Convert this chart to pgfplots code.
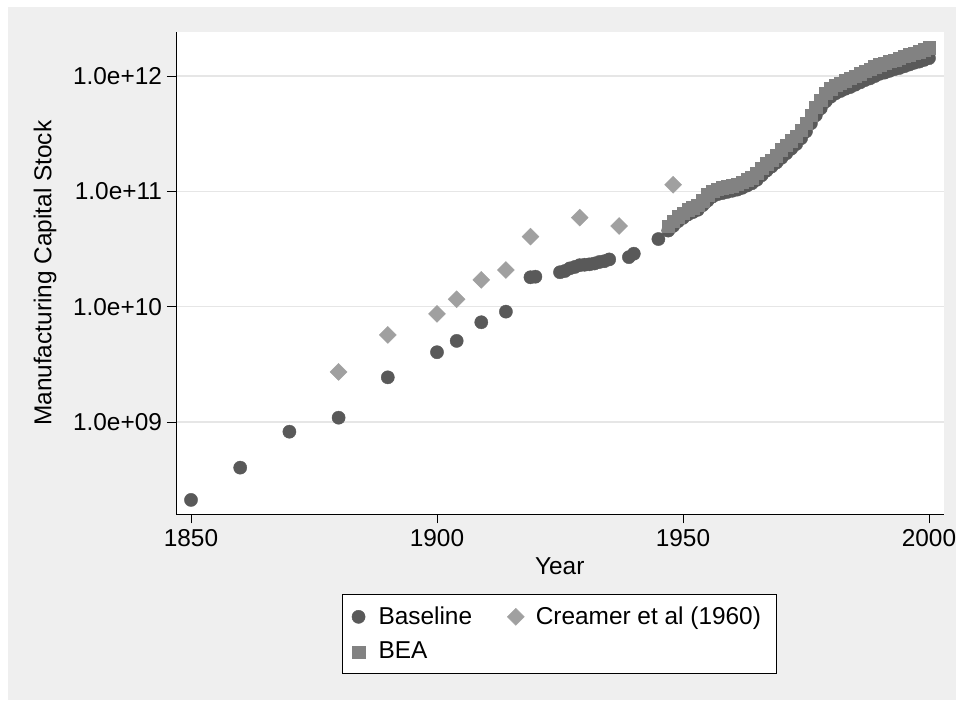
\documentclass[border=0pt]{standalone}
\usepackage{fontspec}
\setmainfont{Liberation Sans}
\usepackage{pgfplots}
\pgfplotsset{compat=1.18}
\definecolor{bggray}{HTML}{EFEFEF}
\definecolor{gridgray}{HTML}{E6E6E6}
\definecolor{basecol}{HTML}{595959}
\definecolor{creamcol}{HTML}{A0A0A0}
\definecolor{beacol}{HTML}{828282}
\newcommand{\chartfont}{\fontsize{12.2}{14.6}\selectfont}

\begin{document}
\begin{tikzpicture}
\useasboundingbox (0,0) rectangle (478pt,350pt);
\fill[white] (0,0) rectangle (478pt,350pt);
\fill[bggray] (4pt,0) rectangle (478pt,346.5pt);
\begin{axis}[
    at={(88pt,92.75pt)}, anchor=south west,
    scale only axis,
    width=383.75pt, height=241.25pt,
    ymode=log,
    xmin=1846.95, xmax=2002.95,
    ymin=1.578e8, ymax=2.41e12,
    axis background/.style={fill=white},
    axis x line*=bottom, axis y line*=left,
    axis line style={line width=0.5pt, -},
    tick align=outside,
    major tick length=4.5pt,
    tick style={line width=0.5pt, black},
    yminorticks=false, xminorticks=false,
    xtick={1850,1900,1950,2000},
    xticklabels={1850,1900,1950,2000},
    ytick={1e9,1e10,1e11,1e12},
    yticklabels={1.0e+09,1.0e+10,1.0e+11,1.0e+12},
    ymajorgrids,
    major grid style={gridgray, line width=0.75pt},
    xticklabel shift=-0.3pt,
    yticklabel shift=-1pt,
    ticklabel style={font=\chartfont},
    xlabel={Year},
    ylabel={Manufacturing Capital Stock},
    xlabel style={font=\chartfont, at={(axis description cs:0.5,0)}, anchor=center, yshift=-25.75pt},
    ylabel style={font=\chartfont, at={(axis description cs:-0.1707,0.5)}, anchor=center, rotate=0},
    legend columns=2,
    legend style={
        at={(axis description cs:0.5,-0.1648)}, anchor=north,
        draw=black, line width=0.5pt, fill=white,
        font=\chartfont,
        inner xsep=3pt, inner ysep=3pt,
        nodes={inner xsep=5pt, inner ysep=3pt},
        /tikz/every even column/.append style={column sep=11.85pt},
        row sep=1.5pt,
    },
    legend cell align=left,
    legend image code/.code={%
        \path[draw=none,fill=none] (0pt,-3pt) rectangle (10pt,3pt);
        \draw[#1,mark repeat=2,mark phase=2] plot coordinates {(0pt,0pt) (5pt,0pt) (10pt,0pt)};},
]
% Baseline
\addplot[only marks, mark=*, mark size=3.3pt, color=basecol, mark options={line width=0.2pt}] coordinates {
(1850,2.11e8) (1860,4.02e8) (1870,8.24e8) (1880,1.09e9) (1890,2.44e9)
(1900,4.03e9) (1904,5.05e9) (1909,7.33e9) (1914,9.06e9)
(1919,1.80e10) (1920,1.82e10)
(1925,1.99e10) (1926,2.04e10) (1927,2.15e10) (1928,2.21e10) (1929,2.29e10)
(1930,2.31e10) (1931,2.33e10) (1932,2.37e10) (1933,2.44e10) (1934,2.48e10) (1935,2.57e10)
(1939,2.69e10) (1940,2.88e10) (1945,3.86e10)
(1947,4.57e10) (1948,5.01e10) (1949,5.50e10) (1950,5.89e10) (1951,6.31e10)
(1952,6.61e10) (1953,6.92e10) (1954,7.59e10) (1955,8.32e10) (1956,9.02e10)
(1957,9.44e10) (1958,9.66e10) (1959,9.89e10) (1960,1.012e11) (1961,1.035e11)
(1962,1.072e11) (1963,1.122e11) (1964,1.175e11) (1965,1.259e11) (1966,1.380e11)
(1967,1.514e11) (1968,1.641e11) (1969,1.778e11) (1970,1.950e11) (1971,2.138e11)
(1972,2.344e11) (1973,2.570e11) (1974,2.884e11) (1975,3.311e11) (1976,3.890e11)
(1977,4.571e11) (1978,5.248e11) (1979,6.026e11) (1980,6.607e11) (1981,7.079e11)
(1982,7.413e11) (1983,7.762e11) (1984,8.035e11) (1985,8.414e11) (1986,8.810e11)
(1987,9.226e11) (1988,9.550e11) (1989,1.000e12) (1990,1.047e12) (1991,1.072e12)
(1992,1.109e12) (1993,1.148e12) (1994,1.175e12) (1995,1.216e12) (1996,1.259e12)
(1997,1.303e12) (1998,1.334e12) (1999,1.380e12) (2000,1.429e12)
};
\addlegendentry{Baseline}
% Creamer et al (1960)
\addplot[only marks, mark=square*, mark size=3.0pt, color=creamcol, mark options={rotate=45, line width=0.2pt}] coordinates {
(1880,2.72e9) (1890,5.69e9) (1900,8.65e9) (1904,1.16e10) (1909,1.71e10)
(1914,2.08e10) (1919,4.05e10) (1929,5.92e10) (1937,5.01e10) (1948,1.14e11)
};
\addlegendentry{Creamer et al (1960)}
% BEA
\addplot[only marks, mark=square*, mark size=3.1pt, color=beacol, mark options={line width=0.2pt}] coordinates {
(1947,5.012e10) (1948,5.495e10) (1949,6.026e10) (1950,6.457e10) (1951,6.918e10)
(1952,7.244e10) (1953,7.586e10) (1954,8.318e10) (1955,9.333e10) (1956,1.000e11)
(1957,1.047e11) (1958,1.072e11) (1959,1.096e11) (1960,1.122e11) (1961,1.148e11)
(1962,1.202e11) (1963,1.259e11) (1964,1.318e11) (1965,1.445e11) (1966,1.585e11)
(1967,1.738e11) (1968,1.862e11) (1969,2.042e11) (1970,2.291e11) (1971,2.512e11)
(1972,2.754e11) (1973,3.020e11) (1974,3.388e11) (1975,3.890e11) (1976,4.571e11)
(1977,5.370e11) (1978,6.166e11) (1979,7.079e11) (1980,7.762e11) (1981,8.318e11)
(1982,8.710e11) (1983,9.120e11) (1984,9.550e11) (1985,1.000e12) (1986,1.047e12)
(1987,1.096e12) (1988,1.148e12) (1989,1.202e12) (1990,1.259e12) (1991,1.288e12)
(1992,1.349e12) (1993,1.380e12) (1994,1.429e12) (1995,1.479e12) (1996,1.531e12)
(1997,1.585e12) (1998,1.622e12) (1999,1.698e12) (2000,1.758e12)
};
\addlegendentry{BEA}
\end{axis}
\end{tikzpicture}
\end{document}
